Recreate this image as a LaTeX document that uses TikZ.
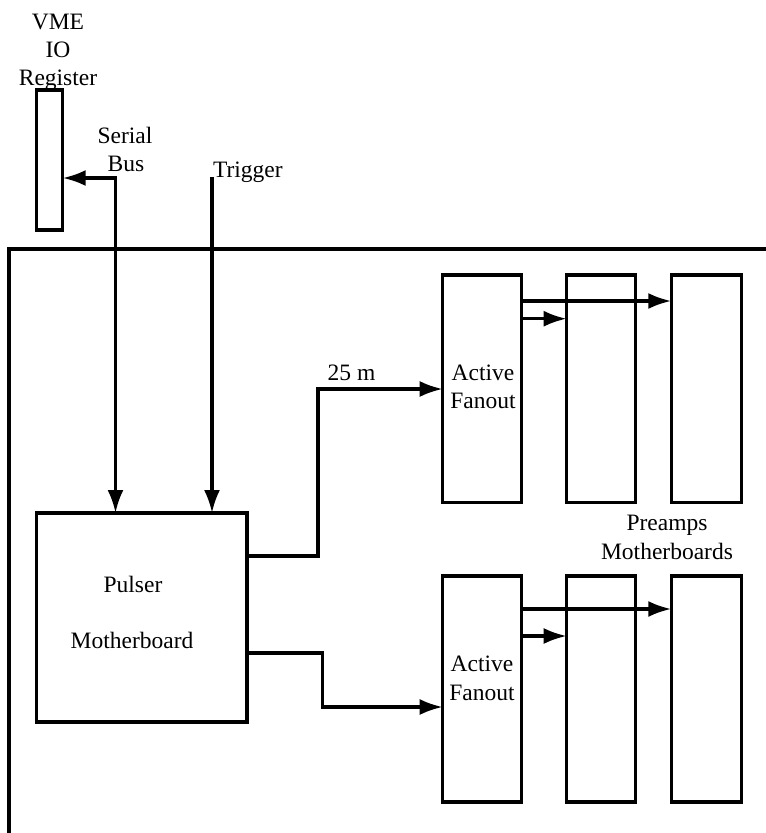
\documentclass[tikz,border=0pt]{standalone}
\usepackage{fontspec}
\setmainfont{Liberation Serif}
\usetikzlibrary{arrows.meta}
\begin{document}
\begin{tikzpicture}[x=1pt,y=-1pt,
  every path/.style={line width=3.2pt},
  box/.style={draw,line width=3.2pt,rectangle,inner sep=0pt,outer sep=0pt},
  lbl/.style={inner sep=0pt,outer sep=0pt,font=\fontsize{23.5}{28}\selectfont},
  arr/.style={-{Latex[length=23pt,width=16pt]}},
  darr/.style={{Latex[length=23pt,width=16pt]}-{Latex[length=23pt,width=16pt]}}]
\useasboundingbox (0,0) rectangle (766,833);
% frame
\coordinate (frTR) at (766,249);
\coordinate (frTL) at (9,249);
\coordinate (frBL) at (9,833);
\draw (frTR) -- (frTL) -- (frBL);
% boxes
\node[box,minimum width=26pt,minimum height=140pt] (vme) at (49.7,160) {};
\node[box,minimum width=210.3pt,minimum height=209pt] (pulser) at (141.85,617.5) {};
\node[box,minimum width=79pt,minimum height=227.7pt] (af1) at (482.2,388.85) {};
\node[box,minimum width=69pt,minimum height=227.7pt] (pa1) at (601.2,388.85) {};
\node[box,minimum width=70.4pt,minimum height=227.7pt] (pb1) at (706.5,388.85) {};
\node[box,minimum width=79pt,minimum height=226pt] (af2) at (482.2,689) {};
\node[box,minimum width=69pt,minimum height=226pt] (pa2) at (601.2,689) {};
\node[box,minimum width=70.4pt,minimum height=226pt] (pb2) at (706.5,689) {};
% labels
\node[lbl,anchor=base] (tvme) at (58,29.3) {VME};
\node[lbl,anchor=base] (tio) at (58,57.3) {IO};
\node[lbl,anchor=base] (treg) at (58,85) {Register};
\node[lbl,anchor=base] (tser) at (125,143) {Serial};
\node[lbl,anchor=base] (tbus) at (126,171.7) {Bus};
\node[lbl,anchor=base west] (ttrig) at (213,177) {Trigger};
\node[lbl,anchor=base] (t25) at (351.5,380) {25 m};
\node[lbl,anchor=base] (tact1) at (483,380.7) {Active};
\node[lbl,anchor=base] (tfan1) at (483,408) {Fanout};
\node[lbl,anchor=base] (tact2) at (482,671.7) {Active};
\node[lbl,anchor=base] (tfan2) at (482,700) {Fanout};
\node[lbl,anchor=base] (tpre) at (667,530.7) {Preamps};
\node[lbl,anchor=base] (tmob) at (667,559) {Motherboards};
\node[lbl,anchor=base] (tpul) at (133,592.7) {Pulser};
\node[lbl,anchor=base] (tpmb) at (132,648) {Motherboard};
% connectors
\draw[darr] (vme.east |- 0,178) -| (pulser.north -| 115.5,0);
\coordinate (trigtop) at (212,177);
\draw[arr] (trigtop) -- (pulser.north -| trigtop);
\draw[arr] (pulser.east |- 0,556) -- (318,556) -- (318,389) -- (af1.west |- 0,389);
\draw[arr] (pulser.east |- 0,653) -- (322.7,653) -- (322.7,707) -- (af2.west |- 0,707);
\draw[arr] (af1.east |- 0,301) -- (pb1.west |- 0,301);
\draw[arr] (af1.east |- 0,318.7) -- (pa1.west |- 0,318.7);
\draw[arr] (af2.east |- 0,609) -- (pb2.west |- 0,609);
\draw[arr] (af2.east |- 0,636) -- (pa2.west |- 0,636);
\end{tikzpicture}
\end{document}
